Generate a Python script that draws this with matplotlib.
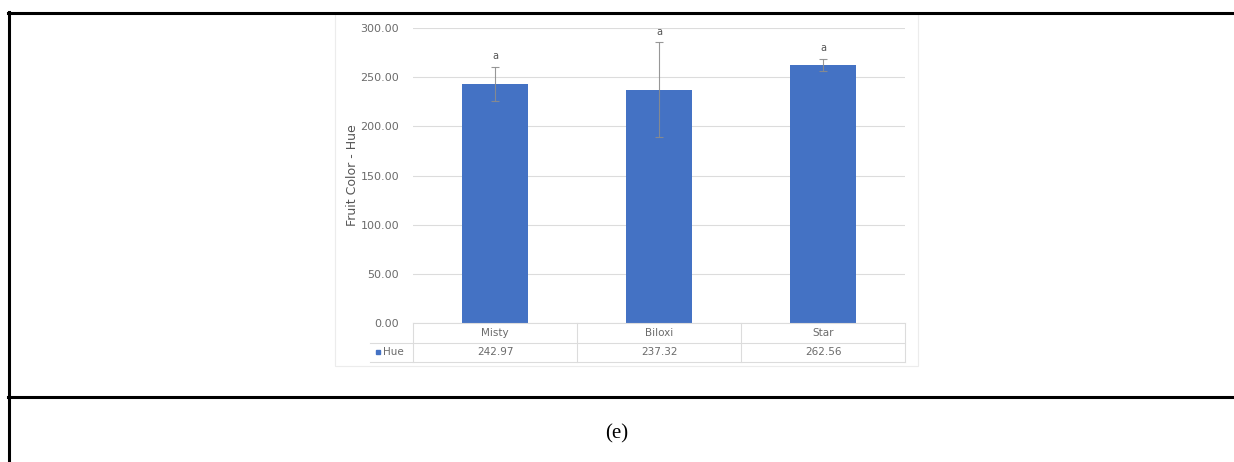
import numpy as np
import matplotlib.pyplot as plt
from matplotlib.lines import Line2D
from matplotlib.patches import Rectangle

# ---------------- DATA ---------------- #
categories = ["Misty", "Biloxi", "Star"]
hue_values = [242.97, 237.32, 262.56]
hue_errors = [17.0, 48.0, 6.0]
letters = ["a", "a", "a"]
value_labels = ["242.97", "237.32", "262.56"]
y_ticks = [0, 50, 100, 150, 200, 250, 300]

W, H = 1234, 462
bar_color = "#4472C4"
grid_color = "#dcdcdc"
text_color = "#6b6b6b"


def px_x(x):
    return x / W


def px_y(y):
    return 1 - y / H


fig = plt.figure(figsize=(W / 100, H / 100), dpi=100)

# ---------------- PAGE TABLE BORDERS ---------------- #
lw = 2.2
fig.add_artist(Line2D([px_x(8), px_x(1234)], [px_y(13), px_y(13)], color="black", lw=lw))
fig.add_artist(Line2D([px_x(9), px_x(9)], [px_y(12), px_y(462)], color="black", lw=lw))
fig.add_artist(Line2D([px_x(8), px_x(1234)], [px_y(397), px_y(397)], color="black", lw=lw))
fig.text(px_x(617), px_y(434), "(e)", ha="center", va="center",
         fontsize=15, family="Liberation Serif")

# chart area frame
fig.add_artist(Rectangle((px_x(335), px_y(366)), px_x(918 - 335), (366 - 14) / H,
                         fill=False, edgecolor="#ececec", lw=0.8))

# ---------------- BAR CHART ---------------- #
ax = fig.add_axes([px_x(413), px_y(323), px_x(905 - 413), (323 - 28) / H])
x = np.arange(len(categories))

ax.bar(x, hue_values, width=0.4, color=bar_color, zorder=2)
# lower half of the error bar shows faintly through the bar
ax.errorbar(x, hue_values, yerr=hue_errors, fmt="none", ecolor="#8c8c8c",
            elinewidth=0.8, capsize=3, capthick=0.8, zorder=3, alpha=0.9)
for xi, v, e, s in zip(x, hue_values, hue_errors, letters):
    ax.text(xi, v + e + 6, s, ha="center", va="bottom", fontsize=7, color="#555555")

ax.set_xlim(-0.5, len(categories) - 0.5)
ax.set_ylim(0, 300)
ax.set_yticks(y_ticks)
ax.set_yticklabels([f"{t:.2f}" for t in y_ticks], fontsize=8, color=text_color)
ax.set_xticks([])
ax.tick_params(axis="y", length=0, pad=10)
ax.grid(axis="y", color=grid_color, lw=0.8, zorder=0)
for sp in ["top", "right", "left"]:
    ax.spines[sp].set_visible(False)
ax.spines["bottom"].set_color(grid_color)
ax.set_ylabel("Fruit Color - Hue", fontsize=9, color="#555555", labelpad=1)

# ---------------- DATA TABLE ---------------- #
trans = ax.get_xaxis_transform()
row1 = -10 / 295
row2 = -29 / 295
line1 = -20 / 295
line2 = -39 / 295
left_edge = -0.5 - 43 / 164

for xi, c, v in zip(x, categories, value_labels):
    ax.text(xi, row1, c, transform=trans, ha="center", va="center",
            fontsize=7.5, color=text_color)
    ax.text(xi, row2, v, transform=trans, ha="center", va="center",
            fontsize=7.5, color=text_color)

ax.plot([left_edge, 2.5], [line1, line1], transform=trans, color=grid_color,
        lw=0.8, clip_on=False)
ax.plot([left_edge, 2.5], [line2, line2], transform=trans, color=grid_color,
        lw=0.8, clip_on=False)
for bx in [-0.5, 0.5, 1.5, 2.5]:
    ax.plot([bx, bx], [0, line2], transform=trans, color=grid_color,
            lw=0.8, clip_on=False)

ax.plot([left_edge + 0.05], [row2], transform=trans, marker="s", markersize=3,
        color=bar_color, clip_on=False)
ax.text(left_edge + 0.08, row2, "Hue", transform=trans, ha="left", va="center",
        fontsize=7.5, color=text_color)

fig.savefig("out.png", dpi=100)
